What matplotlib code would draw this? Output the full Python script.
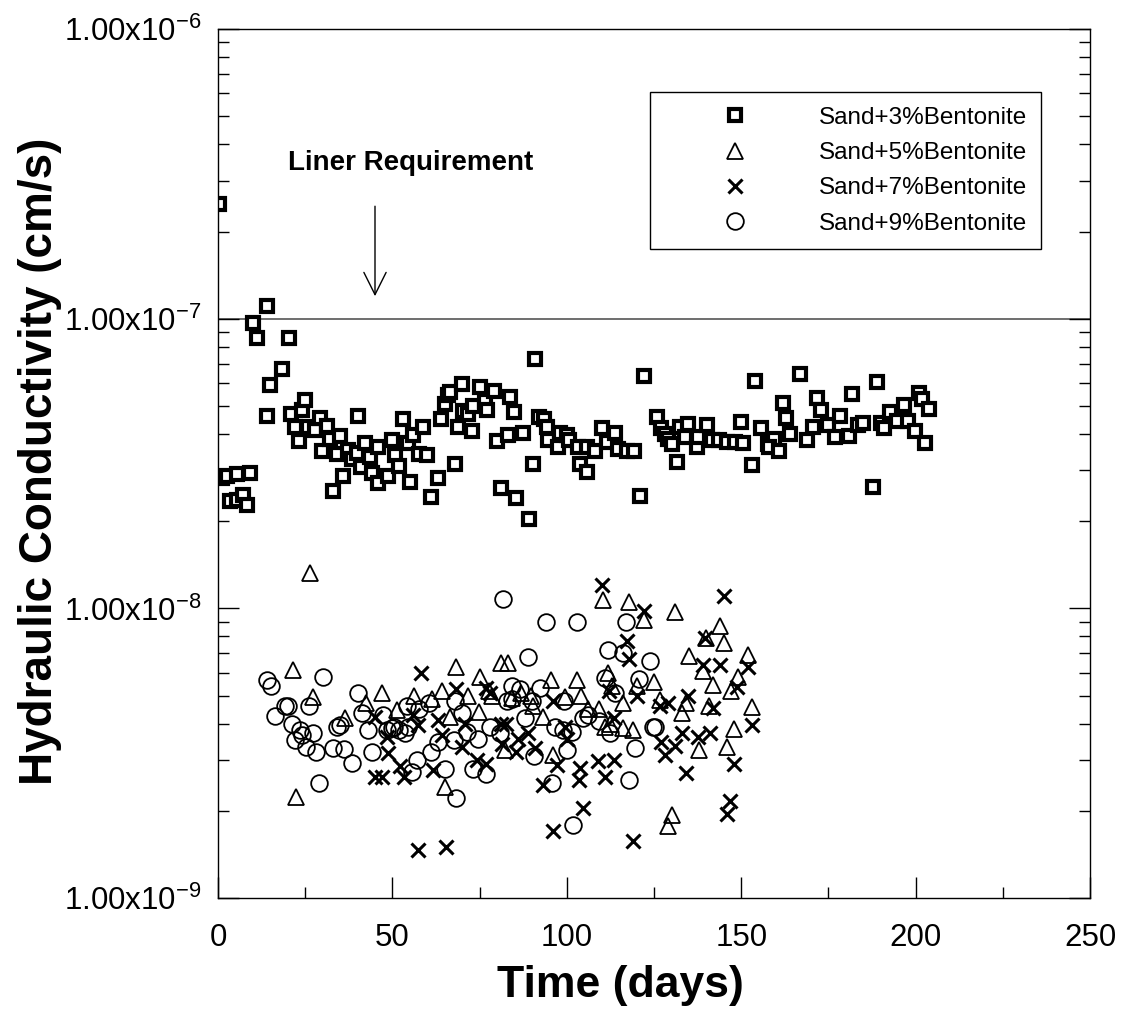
import matplotlib
matplotlib.use("Agg")
import matplotlib.pyplot as plt
from matplotlib.ticker import LogLocator, FixedLocator, NullFormatter

plt.rcParams['font.family'] = ['Liberation Sans', 'DejaVu Sans']
plt.rcParams['mathtext.fontset'] = 'custom'
plt.rcParams['mathtext.rm'] = 'Liberation Sans'

# Sand + 3% bentonite (squares)
days_3 = [0.3, 1.0, 2.5, 3.4, 5.3, 5.4, 7.3, 8.2, 9.2, 10.1, 11.2, 14.1, 15.0, 14.0, 18.3, 20.3,
          21.0, 22.1, 23.2, 24.0, 24.9, 25.9, 27.8, 29.2, 29.9, 31.2, 32.1, 33.1, 34.0, 35.0,
          35.9, 37.4, 38.3, 39.8, 40.0, 40.9, 42.1, 43.6, 44.1, 45.8, 46.0, 48.8, 49.8, 50.7,
          52.0, 52.9, 54.6, 55.0, 56.0, 57.6, 58.9, 60.0, 61.0, 63.0, 63.9, 65.1, 66.0, 66.6,
          67.9, 68.9, 70.0, 70.2, 71.8, 72.7, 73.0, 75.1, 76.4, 77.0, 79.1, 79.9, 81.0, 83.2,
          83.7, 84.9, 85.5, 87.5, 89.1, 90.2, 90.9, 92.1, 93.5, 94.2, 94.7, 97.6, 98.1, 100.0,
          100.6, 103.3, 103.8, 105.9, 105.8, 108.1, 110.0, 111.6, 113.8, 114.8, 117.2, 119.3,
          121.0, 122.1, 125.8, 127.0, 128.0, 128.9, 130.1, 131.7, 132.5, 133.9, 134.8, 137.2,
          137.6, 140.1, 141.6, 143.5, 145.9, 148.3, 149.8, 150.4, 153.2, 153.8, 155.6, 157.7,
          159.5, 158.0, 160.8, 161.9, 162.8, 164.0, 166.9, 168.8, 170.7, 171.8, 172.8, 174.8,
          176.9, 178.3, 181.0, 181.8, 183.6, 185.0, 187.9, 188.8, 190.0, 190.9, 192.7, 194.6,
          196.7, 197.8, 199.8, 201.1, 201.7, 203.9, 202.7]
k_3 = [2.49e-7, 2.81e-8, 2.86e-8, 2.35e-8, 2.37e-8, 2.92e-8, 2.46e-8, 2.28e-8, 2.94e-8, 9.7e-8,
       8.6e-8, 1.11e-7, 5.9e-8, 4.6e-8, 6.7e-8, 8.6e-8, 4.68e-8, 4.24e-8, 3.77e-8, 4.84e-8,
       5.24e-8, 4.24e-8, 4.13e-8, 4.53e-8, 3.48e-8, 4.26e-8, 3.84e-8, 2.54e-8, 3.41e-8, 3.94e-8,
       2.86e-8, 3.52e-8, 3.27e-8, 3.43e-8, 4.62e-8, 3.08e-8, 3.71e-8, 3.34e-8, 2.94e-8, 2.70e-8,
       3.62e-8, 2.86e-8, 3.81e-8, 3.39e-8, 3.10e-8, 4.52e-8, 3.71e-8, 2.74e-8, 3.97e-8, 3.41e-8,
       4.24e-8, 3.39e-8, 2.42e-8, 2.83e-8, 4.52e-8, 5.08e-8, 5.46e-8, 5.6e-8, 3.15e-8, 4.24e-8,
       5.93e-8, 4.8e-8, 4.7e-8, 4.1e-8, 5.0e-8, 5.82e-8, 5.2e-8, 4.85e-8, 5.64e-8, 3.77e-8,
       2.6e-8, 3.97e-8, 5.35e-8, 4.78e-8, 2.4e-8, 4.02e-8, 2.04e-8, 3.14e-8, 7.24e-8, 4.59e-8,
       4.5e-8, 4.24e-8, 3.81e-8, 3.62e-8, 4.02e-8, 3.97e-8, 3.8e-8, 3.62e-8, 3.15e-8, 2.96e-8,
       3.6e-8, 3.48e-8, 4.19e-8, 3.75e-8, 4.02e-8, 3.55e-8, 3.48e-8, 3.48e-8, 2.45e-8, 6.36e-8,
       4.57e-8, 4.2e-8, 4.0e-8, 3.85e-8, 3.7e-8, 3.19e-8, 4.24e-8, 3.9e-8, 4.33e-8, 3.62e-8,
       3.9e-8, 4.28e-8, 3.8e-8, 3.8e-8, 3.75e-8, 3.75e-8, 4.39e-8, 3.72e-8, 3.13e-8, 6.11e-8,
       4.19e-8, 3.7e-8, 3.85e-8, 3.6e-8, 3.5e-8, 5.1e-8, 4.53e-8, 4.0e-8, 6.45e-8, 3.8e-8,
       4.24e-8, 5.31e-8, 4.84e-8, 4.3e-8, 3.9e-8, 4.6e-8, 3.94e-8, 5.48e-8, 4.3e-8, 4.35e-8,
       2.62e-8, 6.06e-8, 4.35e-8, 4.19e-8, 4.78e-8, 4.45e-8, 5.04e-8, 4.45e-8, 4.09e-8, 5.52e-8,
       5.3e-8, 4.87e-8, 3.73e-8]

# Sand + 5% bentonite (triangles)
days_5 = [22.4, 21.4, 26.3, 27.3, 36.4, 42.4, 46.9, 51.2, 56.3, 61.3, 64.3, 65.1, 66.5, 68.3,
          71.8, 75.1, 74.9, 77.6, 78.5, 81.1, 82.3, 83.2, 84.3, 86.9, 89.7, 90.4, 93.3, 95.4,
          96.1, 99.5, 102.8, 104.1, 106.0, 109.1, 110.3, 111.0, 111.9, 112.4, 113.0, 116.2,
          116.0, 117.9, 119.1, 120.2, 122.1, 125.0, 126.7, 129.1, 130.1, 131.0, 132.9, 134.3,
          135.1, 138.0, 139.0, 139.9, 140.8, 142.0, 143.9, 145.1, 146.0, 147.0, 148.0, 149.0,
          152.0, 153.0]
k_5 = [2.24e-9, 6.12e-9, 1.32e-8, 4.96e-9, 4.17e-9, 4.70e-9, 5.12e-9, 4.46e-9, 5.0e-9, 4.85e-9,
       5.2e-9, 2.41e-9, 4.23e-9, 6.3e-9, 5.0e-9, 5.81e-9, 4.4e-9, 5.2e-9, 5.0e-9, 6.46e-9,
       3.25e-9, 6.46e-9, 4.9e-9, 5.1e-9, 5.0e-9, 4.6e-9, 4.23e-9, 5.66e-9, 3.12e-9, 4.96e-9,
       5.66e-9, 5.0e-9, 4.5e-9, 4.5e-9, 1.07e-8, 3.9e-9, 5.97e-9, 4.0e-9, 5.4e-9, 4.7e-9,
       3.85e-9, 1.05e-8, 3.8e-9, 5.4e-9, 9.1e-9, 5.58e-9, 4.83e-9, 1.77e-9, 1.94e-9, 9.75e-9,
       4.34e-9, 4.7e-9, 6.85e-9, 3.25e-9, 6.1e-9, 7.9e-9, 4.6e-9, 5.44e-9, 8.7e-9, 7.57e-9,
       3.32e-9, 5.2e-9, 3.83e-9, 5.81e-9, 6.9e-9, 4.58e-9]

# Sand + 7% bentonite (crosses)
days_7 = [45.0, 46.9, 45.0, 48.3, 48.8, 52.3, 53.4, 56.0, 57.2, 57.4, 58.2, 61.7, 63.2, 64.2,
          65.3, 68.1, 70.0, 70.8, 74.1, 76.7, 76.9, 78.0, 81.0, 81.5, 82.5, 85.3, 86.1, 89.0,
          90.9, 93.3, 96.0, 96.1, 97.3, 99.4, 100.0, 103.5, 103.8, 104.7, 109.0, 110.0, 110.9,
          112.1, 113.4, 113.4, 117.2, 117.9, 118.9, 120.0, 122.1, 126.6, 127.1, 128.2, 129.1,
          131.0, 132.9, 134.1, 134.8, 137.6, 139.0, 139.6, 140.9, 142.0, 143.9, 145.1, 146.0,
          146.8, 147.9, 148.7, 152.0, 153.0]
k_7 = [2.61e-9, 2.61e-9, 4.23e-9, 3.6e-9, 3.16e-9, 2.85e-9, 2.61e-9, 4.3e-9, 1.47e-9, 3.95e-9,
       5.97e-9, 2.77e-9, 4.12e-9, 3.65e-9, 1.5e-9, 5.25e-9, 3.33e-9, 4.0e-9, 3.0e-9, 5.3e-9,
       2.9e-9, 5.1e-9, 4.0e-9, 3.4e-9, 4.0e-9, 3.2e-9, 3.55e-9, 3.7e-9, 3.3e-9, 2.46e-9,
       4.8e-9, 1.71e-9, 2.88e-9, 3.9e-9, 3.55e-9, 2.55e-9, 2.82e-9, 2.04e-9, 2.97e-9, 1.2e-8,
       2.62e-9, 5.2e-9, 4.2e-9, 3.0e-9, 7.7e-9, 6.67e-9, 1.58e-9, 5.0e-9, 9.8e-9, 4.6e-9,
       3.45e-9, 3.12e-9, 4.7e-9, 3.35e-9, 3.7e-9, 2.7e-9, 5.0e-9, 3.6e-9, 6.38e-9, 7.9e-9,
       3.7e-9, 4.52e-9, 6.38e-9, 1.1e-8, 1.95e-9, 2.17e-9, 2.9e-9, 5.37e-9, 6.3e-9, 3.96e-9]

# Sand + 9% bentonite (circles)
days_9 = [14.0, 15.2, 16.3, 19.2, 20.2, 21.1, 22.1, 23.5, 24.1, 25.1, 26.2, 27.3, 28.1, 29.0,
          30.2, 33.1, 34.0, 35.0, 36.2, 38.3, 40.2, 41.2, 43.1, 44.2, 47.3, 48.4, 49.8, 50.5,
          52.0, 53.5, 54.2, 54.6, 55.5, 57.0, 57.7, 60.6, 61.1, 63.1, 65.1, 67.6, 67.9, 68.1,
          69.9, 71.4, 73.0, 74.5, 76.7, 78.0, 80.7, 81.8, 82.7, 84.2, 84.3, 86.7, 88.1, 89.0,
          90.0, 90.7, 92.4, 94.0, 95.7, 96.6, 98.8, 99.2, 100.0, 101.4, 101.9, 102.8, 104.7,
          106.0, 109.3, 111.0, 111.9, 112.4, 113.7, 116.0, 116.9, 117.8, 119.6, 120.8, 123.9,
          124.8, 125.2]
k_9 = [5.66e-9, 5.4e-9, 4.26e-9, 4.6e-9, 4.6e-9, 4.0e-9, 3.5e-9, 3.8e-9, 3.65e-9, 3.31e-9,
       4.6e-9, 3.7e-9, 3.2e-9, 2.49e-9, 5.78e-9, 3.3e-9, 3.9e-9, 3.95e-9, 3.27e-9, 2.93e-9,
       5.12e-9, 4.34e-9, 3.8e-9, 3.2e-9, 4.3e-9, 3.8e-9, 3.85e-9, 3.9e-9, 3.8e-9, 3.7e-9,
       4.6e-9, 3.9e-9, 2.73e-9, 3.0e-9, 4.5e-9, 4.7e-9, 3.2e-9, 3.45e-9, 2.78e-9, 3.5e-9,
       4.8e-9, 2.21e-9, 4.35e-9, 3.75e-9, 2.8e-9, 3.55e-9, 2.67e-9, 3.9e-9, 3.7e-9, 1.08e-8,
       4.8e-9, 5.4e-9, 4.85e-9, 5.25e-9, 4.2e-9, 6.8e-9, 4.8e-9, 3.1e-9, 5.3e-9, 9.0e-9,
       2.49e-9, 3.9e-9, 3.8e-9, 4.8e-9, 3.25e-9, 3.75e-9, 1.79e-9, 9.0e-9, 4.2e-9, 4.3e-9,
       4.1e-9, 5.75e-9, 7.2e-9, 3.7e-9, 5.1e-9, 7.0e-9, 9.0e-9, 2.56e-9, 3.3e-9, 5.7e-9,
       6.6e-9, 3.9e-9, 3.9e-9]

labels = ['Sand+3%Bentonite', 'Sand+5%Bentonite', 'Sand+7%Bentonite', 'Sand+9%Bentonite']
liner_k = 1e-7
y_major = [1e-9, 1e-8, 1e-7, 1e-6]
y_labels = [r'$\mathregular{1.00x10^{-9}}$', r'$\mathregular{1.00x10^{-8}}$',
            r'$\mathregular{1.00x10^{-7}}$', r'$\mathregular{1.00x10^{-6}}$']

fig = plt.figure(figsize=(11.21, 10.19), dpi=100)
ax = fig.add_axes([0.1945, 0.1187, 0.7779, 0.8528])

ax.plot(days_3, k_3, ls='none', marker='s', ms=9.2, mfc='white', mec='black', mew=3.0,
        label=labels[0])
ax.plot(days_5, k_5, ls='none', marker='^', ms=11, mfc='none', mec='black', mew=1.3,
        label=labels[1])
ax.plot(days_7, k_7, ls='none', marker='x', ms=10.5, mec='black', mew=2.2,
        label=labels[2])
ax.plot(days_9, k_9, ls='none', marker='o', ms=12, mfc='none', mec='black', mew=1.3,
        label=labels[3])

ax.axhline(liner_k, color='#555555', lw=1.2, zorder=1)
ax.annotate('', xy=(45, 1.17e-7), xytext=(45, 2.5e-7),
            arrowprops=dict(arrowstyle='->', color='black', lw=1.0,
                            mutation_scale=40))
ax.text(55.3, 3.45e-7, 'Liner Requirement', ha='center', va='center',
        fontsize=20, fontweight='bold')

ax.set_yscale('log')
ax.set_xlim(0, 250)
ax.set_ylim(1e-9, 1e-6)
ax.set_xticks([0, 50, 100, 150, 200, 250])
ax.xaxis.set_minor_locator(FixedLocator([25, 75, 125, 175, 225]))
ax.yaxis.set_major_locator(FixedLocator(y_major))
ax.set_yticklabels(y_labels)
ax.yaxis.set_minor_locator(LogLocator(base=10, subs=range(2, 10)))
ax.yaxis.set_minor_formatter(NullFormatter())

ax.tick_params(which='major', direction='in', length=15, width=1, labelsize=22.5,
               right=True, top=False)
ax.tick_params(which='minor', direction='in', length=8, width=1, right=True, top=False)
ax.tick_params(axis='x', which='major', pad=18)
ax.tick_params(axis='y', which='major', pad=12)
for s in ax.spines.values():
    s.set_linewidth(1)

fig.text(620 / 1121, 1 - 985 / 1019, 'Time (days)', ha='center', va='center',
         fontsize=32, fontweight='bold')
fig.text(40 / 1121, 0.547, 'Hydraulic Conductivity (cm/s)', ha='center', va='center',
         rotation=90, fontsize=33, fontweight='bold')

leg = ax.legend(loc='upper left', bbox_to_anchor=(0.4954, 0.9275), fontsize=17.5,
                frameon=True, fancybox=False, edgecolor='black', framealpha=1,
                handlelength=5.8, handletextpad=0.53, borderpad=0.6, labelspacing=0.55,
                borderaxespad=0)
leg.get_frame().set_linewidth(1)

fig.savefig('out.png', dpi=100)
